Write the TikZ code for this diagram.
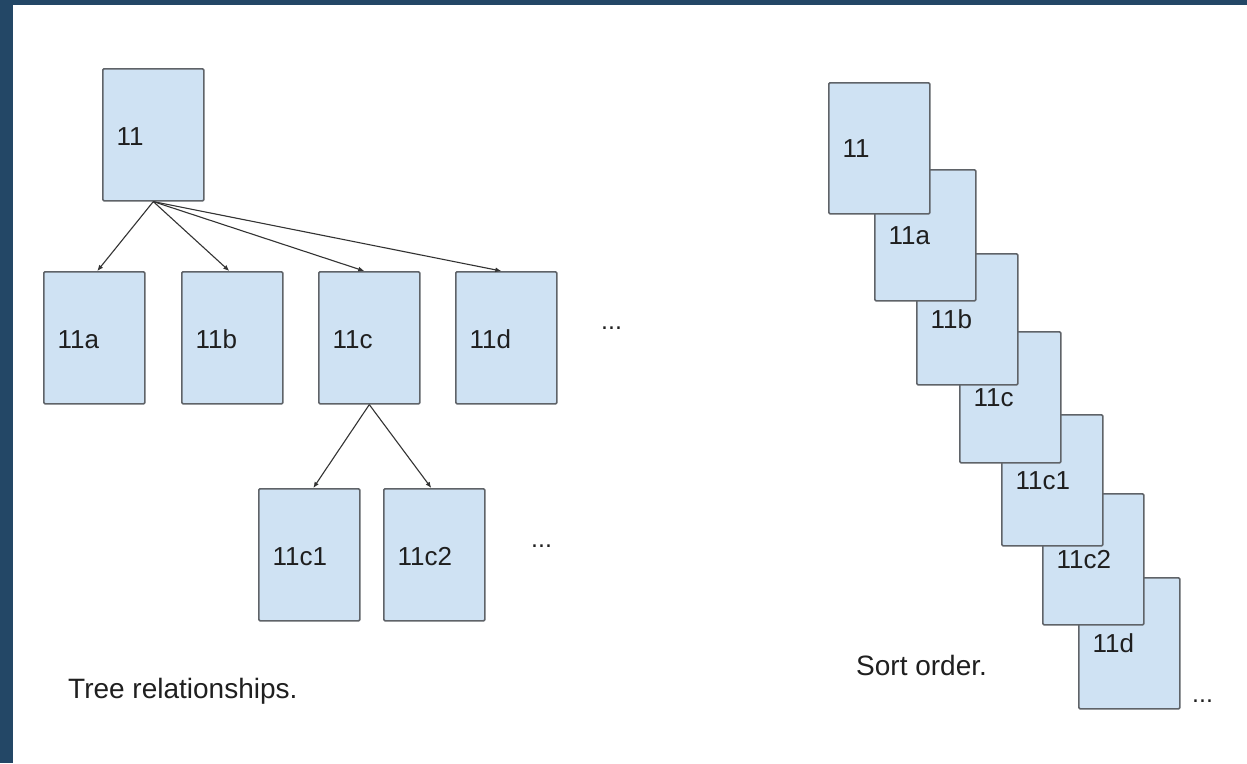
\documentclass[tikz,border=0pt]{standalone}
\usepackage{fontspec}
\setmainfont{Liberation Sans}
\usetikzlibrary{arrows.meta}
\definecolor{navy}{RGB}{35,71,102}
\definecolor{boxfill}{HTML}{CFE2F3}
\definecolor{boxline}{HTML}{5F6368}
\definecolor{txt}{HTML}{1F1F1F}
\definecolor{linkc}{HTML}{333333}
\begin{document}
\begin{tikzpicture}[x=1pt,y=-1pt,
  page/.style={draw=boxline, fill=boxfill, line width=1.6pt, rounded corners=1.2pt,
    minimum width=101pt, minimum height=132pt, inner sep=0pt, anchor=north west},
  spage/.style={page, minimum height=131pt},
  lbl/.style={anchor=west, inner sep=0pt, text height=18.6pt, text depth=0pt,
    font=\fontsize{26}{31}\selectfont, text=txt},
  captext/.style={lbl, text height=20pt, font=\fontsize{28}{33}\selectfont},
  dots/.style={anchor=base west, inner sep=0pt, font=\fontsize{25}{30}\selectfont, text=txt},
  link/.style={draw=linkc, line width=1.1pt, -{Latex[length=6pt,width=5pt]}}]
% background and frame
\fill[white] (0,0) rectangle (1247,763);
\useasboundingbox (0,0) rectangle (1247,763);
\fill[navy] (0,0) rectangle (12.7,763);
\fill[navy] (0,0) rectangle (1247,5);

% ---------- tree ----------
\node[page] (t11) at (102,68) {};
\node[lbl] (l11) at ([xshift=14.5pt,yshift=-1pt]t11.west) {11};
\node[page] (ta) at (43,271) {};
\node[lbl] (la) at ([xshift=14.5pt,yshift=-1pt]ta.west) {11a};
\node[page] (tb) at (181,271) {};
\node[lbl] (lb) at ([xshift=14.5pt,yshift=-1pt]tb.west) {11b};
\node[page] (tc) at (318,271) {};
\node[lbl] (lc) at ([xshift=14.5pt,yshift=-1pt]tc.west) {11c};
\node[page] (td) at (455,271) {};
\node[lbl] (ld) at ([xshift=14.5pt,yshift=-1pt]td.west) {11d};
\node[dots] (dots1) at (601,329) {...};
\node[page] (tc1) at (258,488) {};
\node[lbl] (lc1) at ([xshift=14.5pt,yshift=-1pt]tc1.west) {11c1};
\node[page] (tc2) at (383,488) {};
\node[lbl] (lc2) at ([xshift=14.5pt,yshift=-1pt]tc2.west) {11c2};
\node[dots] (dots2) at (531,547) {...};

\draw[link] (t11.south) -- ([xshift=3pt]ta.north);
\draw[link] (t11.south) -- ([xshift=-3pt]tb.north);
\draw[link] (t11.south) -- ([xshift=-5pt]tc.north);
\draw[link] (t11.south) -- ([xshift=-5pt]td.north);
\draw[link] (tc.south) -- ([xshift=4pt]tc1.north);
\draw[link] (tc.south) -- ([xshift=-3pt]tc2.north);

\node[captext] (tcap) at (68,688) {Tree relationships.};

% ---------- sort order ----------
\node[spage] (sd) at (1078,577) {};
\node[lbl] (msd) at ([xshift=14.5pt]sd.west) {11d};
\node[spage] (sc2) at (1042,493) {};
\node[lbl] (msc2) at ([xshift=14.5pt]sc2.west) {11c2};
\node[spage] (sc1) at (1001,414) {};
\node[lbl] (msc1) at ([xshift=14.5pt]sc1.west) {11c1};
\node[spage] (sc) at (959,331) {};
\node[lbl] (msc) at ([xshift=14.5pt]sc.west) {11c};
\node[spage] (sb) at (916,253) {};
\node[lbl] (msb) at ([xshift=14.5pt]sb.west) {11b};
\node[spage] (sa) at (874,169) {};
\node[lbl] (msa) at ([xshift=14.5pt]sa.west) {11a};
\node[spage] (s11) at (828,82) {};
\node[lbl] (ms11) at ([xshift=14.5pt]s11.west) {11};
\node[dots] (dots3) at (1192,702) {...};

\node[captext] (scap) at (856,665) {Sort order.};
\end{tikzpicture}
\end{document}
